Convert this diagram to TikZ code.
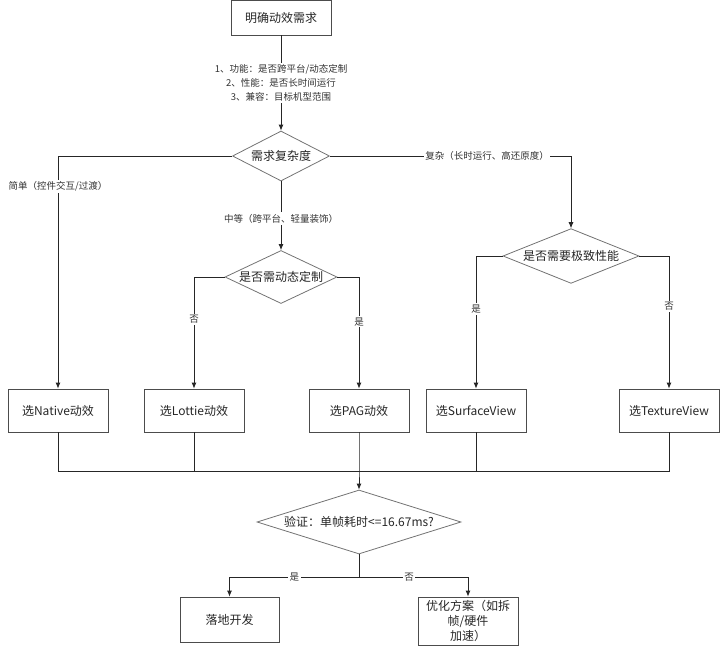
\documentclass[tikz,border=0pt]{standalone}
\usepackage{fontspec}
\setmainfont{Noto Sans CJK SC}
\usetikzlibrary{
    arrows.meta,
    shapes.geometric,
    positioning
}

\begin{document}
\begin{tikzpicture}[x=1pt, y=-1pt, >={Latex[length=6pt, width=5pt]},
    box/.style={draw=black!70, line width=0.8pt, minimum width=100pt, minimum height=43pt,
        inner sep=1pt, align=center, font=\fontsize{12}{15}\selectfont, text=black!85},
    choice/.style={draw=black!55, line width=0.8pt, diamond, aspect=2.2, inner sep=0pt,
        font=\fontsize{12}{15}\selectfont, text=black!85},
    lbl/.style={fill=white, inner sep=1.5pt, align=center,
        font=\fontsize{9.5}{14}\selectfont, text=black!80},
    flow/.style={draw=black!85, line width=0.8pt}]

    \useasboundingbox (0,0) rectangle (720,648);

    \node[box, minimum height=35pt] (req) at (281, 17.5) {明确动效需求};
    \node[choice, minimum width=97pt, minimum height=50pt] (cplx) at (281, 156) {需求复杂度};
    \node[choice, minimum width=112pt, minimum height=53pt] (dyn) at (281, 277) {是否需动态定制};
    \node[choice, minimum width=136pt, minimum height=52pt] (perf) at (571, 256) {是否需要极致性能};

    \node[box] (native) at (58, 410.5) {选Native动效};
    \node[box] (lottie) at (194, 410.5) {选Lottie动效};
    \node[box] (pag) at (359, 410.5) {选PAG动效};
    \node[box] (surf) at (476, 410.5) {选SurfaceView};
    \node[box] (tex) at (669, 410.5) {选TextureView};

    \coordinate (join) at (359, 471);
    \node[choice, aspect=4, minimum width=204pt, minimum height=64pt] (verify) at (359, 522) {验证：单帧耗时<=16.67ms?};
    \coordinate (fork) at (359, 577);

    \node[box, minimum width=99pt, minimum height=45pt] (dev) at (229.5, 619.5) {落地开发};
    \node[box, minimum height=48pt] (opt) at (468, 621) {优化方案（如拆\\帧/硬件\\加速）};

    \draw[flow, ->] (req) -- node[lbl] {1、功能：是否跨平台/动态定制\\2、性能：是否长时间运行\\3、兼容：目标机型范围} (cplx);
    \draw[flow, ->] (cplx.west) -| node[lbl, pos=0.565] {简单（控件交互/过渡）} (native.north);
    \draw[flow, ->] (cplx.south) -- node[lbl, pos=0.54] {中等（跨平台、轻量装饰）} (dyn.north);
    \draw[flow, ->] (cplx.east) -| node[lbl, pos=0.326] {复杂（长时运行、高还原度）} (perf.north);

    \draw[flow, ->] (dyn.west) -| node[lbl, pos=0.69] {否} (lottie.north);
    \draw[flow, ->] (dyn.east) -| node[lbl, pos=0.70] {是} (pag.north);
    \draw[flow, ->] (perf.west) -| node[lbl, pos=0.70] {是} (surf.north);
    \draw[flow, ->] (perf.east) -| node[lbl, pos=0.69] {否} (tex.north);

    \draw[flow] (native.south) |- (join);
    \draw[flow] (lottie.south) |- (join);
    \draw[flow] (surf.south) |- (join);
    \draw[flow] (tex.south) |- (join);
    \draw[flow, ->] (pag.south) -- (join) -- (verify.north);

    \draw[flow] (verify.south) -- (fork);
    \draw[flow, ->] (fork) -| node[lbl, pos=0.25] {是} (dev.north);
    \draw[flow, ->] (fork) -| node[lbl, pos=0.23] {否} (opt.north);
\end{tikzpicture}
\end{document}
